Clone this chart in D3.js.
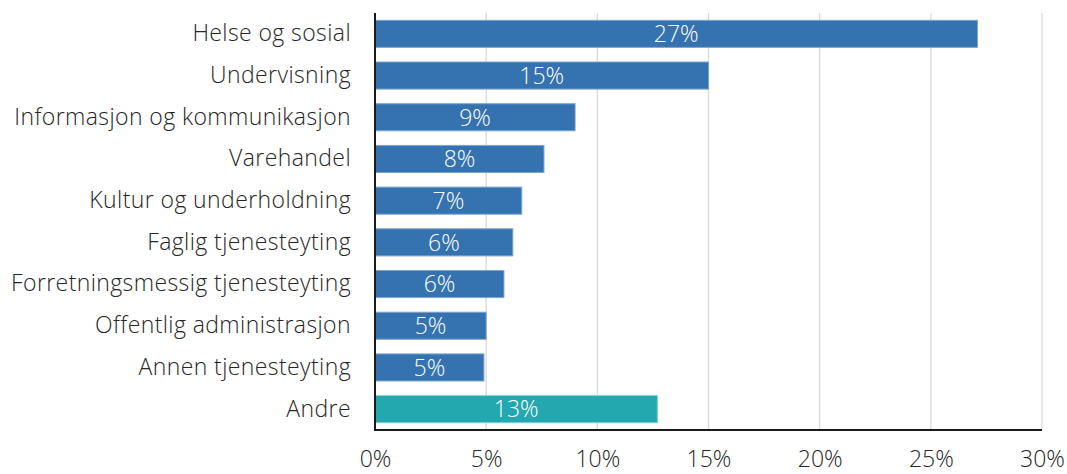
<!DOCTYPE html>
<html>
<head>
<meta charset="utf-8">
<script src="https://cdn.jsdelivr.net/npm/d3@7"></script>
<style>
  html, body { margin: 0; padding: 0; background: #fff; }
  svg text { font-family: "Open Sans", Lato, sans-serif; font-weight: 300; }
</style>
</head>
<body>
<svg id="chart" width="1067" height="474"></svg>
<script>
// Andel per næring (prosent)
const categories = [
  "Helse og sosial",
  "Undervisning",
  "Informasjon og kommunikasjon",
  "Varehandel",
  "Kultur og underholdning",
  "Faglig tjenesteyting",
  "Forretningsmessig tjenesteyting",
  "Offentlig administrasjon",
  "Annen tjenesteyting",
  "Andre"
];
const values = [27.1, 15.0, 9.0, 7.6, 6.6, 6.2, 5.8, 5.0, 4.9, 12.7];
const xTicks = [0, 5, 10, 15, 20, 25, 30];

const margin = { top: 13, right: 25, bottom: 44, left: 375 };
const width = 1067, height = 474;
const svg = d3.select("#chart");

const x = d3.scaleLinear().domain([0, 30]).range([margin.left, width - margin.right]);
const y = d3.scaleBand().domain(categories)
  .range([margin.top, height - margin.bottom])
  .paddingInner(0.35).paddingOuter(0.175);

// Vertical gridlines
svg.append("g")
  .selectAll("line")
  .data(xTicks.slice(1))
  .join("line")
  .attr("x1", d => x(d)).attr("x2", d => x(d))
  .attr("y1", margin.top).attr("y2", height - margin.bottom)
  .attr("stroke", "#d9d9d9").attr("stroke-width", 1.3);

// Bars
svg.append("g")
  .selectAll("rect")
  .data(categories)
  .join("rect")
  .attr("x", x(0))
  .attr("y", d => y(d))
  .attr("width", (d, i) => x(values[i]) - x(0))
  .attr("height", y.bandwidth())
  .attr("fill", d => d === "Andre" ? "#23a8b0" : "#3572b0")
  .attr("stroke", d => d === "Andre" ? "#7fd0d4" : "#7ea6d2")
  .attr("stroke-width", 1);

// Value labels inside bars
svg.append("g")
  .selectAll("text")
  .data(categories)
  .join("text")
  .attr("x", (d, i) => (x(0) + x(values[i])) / 2)
  .attr("y", d => y(d) + y.bandwidth() / 2)
  .attr("dy", "0.36em")
  .attr("text-anchor", "middle")
  .attr("fill", "#fff")
  .attr("font-size", 23)
  .text((d, i) => Math.round(values[i]) + "%");

// Category axis
const yAxis = svg.append("g")
  .attr("transform", `translate(${x(0)},0)`)
  .call(d3.axisLeft(y).tickSize(0).tickPadding(24));
yAxis.select(".domain").remove();
yAxis.selectAll("text")
  .attr("font-size", 23)
  .attr("letter-spacing", "0.4px")
  .attr("fill", "#262626");

// Value axis
const xAxis = svg.append("g")
  .attr("transform", `translate(0,${height - margin.bottom})`)
  .call(d3.axisBottom(x).tickValues(xTicks).tickSize(0).tickPadding(21).tickFormat(d => d + "%"));
xAxis.select(".domain").remove();
xAxis.selectAll("text")
  .attr("font-size", 23)
  .attr("fill", "#262626");

// Axis lines
svg.append("line")
  .attr("x1", x(0)).attr("x2", x(0))
  .attr("y1", margin.top).attr("y2", height - margin.bottom)
  .attr("stroke", "#1a1a1a").attr("stroke-width", 2);
svg.append("line")
  .attr("x1", x(0) - 1).attr("x2", x(30))
  .attr("y1", height - margin.bottom).attr("y2", height - margin.bottom)
  .attr("stroke", "#1a1a1a").attr("stroke-width", 2);
</script>
</body>
</html>
